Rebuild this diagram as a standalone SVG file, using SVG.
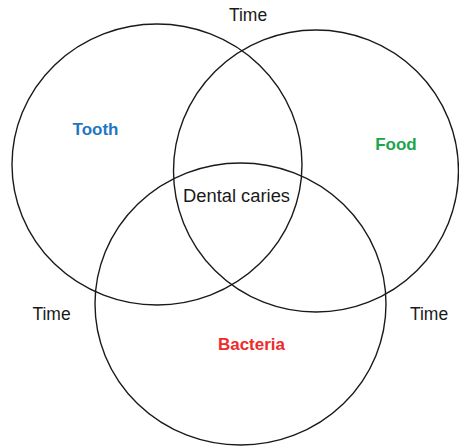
<svg xmlns="http://www.w3.org/2000/svg" width="459" height="447" viewBox="0 0 459 447">
<style>
.c{fill:none;stroke:#1a1a1a;stroke-width:1.4}
.t{font-family:"Liberation Sans",Arial,sans-serif;font-size:17.5px;fill:#1a1a1a;text-anchor:middle}
.b{font-family:"Liberation Sans",Arial,sans-serif;font-size:17px;font-weight:bold;text-anchor:middle}
</style>
<rect width="459" height="447" fill="#fff"/>
<g id="tooth"><ellipse class="c" cx="157" cy="164.5" rx="145" ry="140.5"/><text class="b" x="95.5" y="135" fill="#1F77C2">Tooth</text></g>
<g id="food"><ellipse class="c" cx="316" cy="171" rx="142.5" ry="141"/><text class="b" x="396" y="150" fill="#1BA64C">Food</text></g>
<g id="bacteria"><ellipse class="c" cx="240.5" cy="304" rx="145.5" ry="141"/><text class="b" x="251.5" y="350" fill="#F02A2A">Bacteria</text></g>
<g id="center"><text class="t" x="236.5" y="202" textLength="107" lengthAdjust="spacingAndGlyphs">Dental caries</text></g>
<g id="time-top"><text class="t" x="248" y="21">Time</text></g>
<g id="time-left"><text class="t" x="51.5" y="320">Time</text></g>
<g id="time-right"><text class="t" x="429" y="320">Time</text></g>
<g id="connectors"></g>
</svg>
